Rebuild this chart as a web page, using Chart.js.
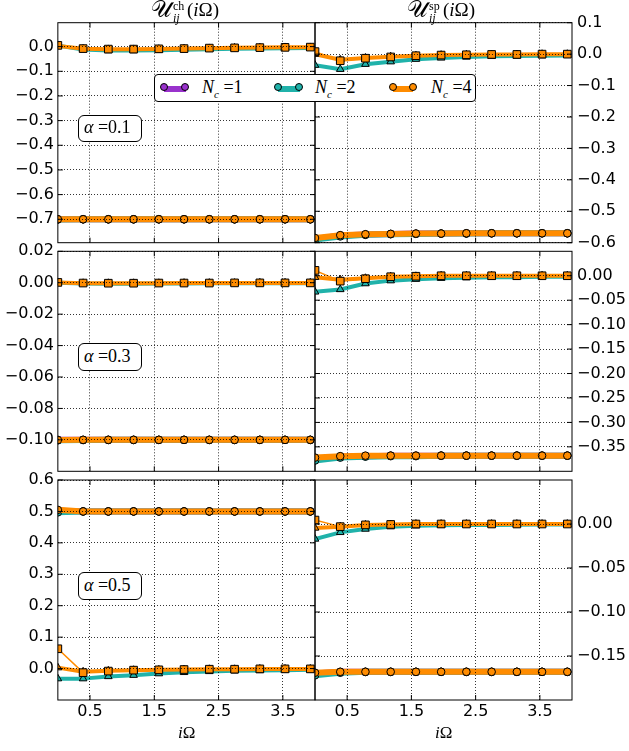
<!DOCTYPE html>
<html><head><meta charset="utf-8">
<script src="https://cdn.jsdelivr.net/npm/chart.js@4.4.1/dist/chart.umd.min.js"></script>
<style>
body{margin:0;background:#fff;width:629px;height:751px;overflow:hidden;position:relative;}
canvas.p{position:absolute;left:0;top:0;}
.ov{position:absolute;font-family:"Liberation Serif","DejaVu Serif",serif;color:#000;white-space:nowrap;z-index:10;}
.box{position:absolute;border:1px solid #000;border-radius:6px;background:#fff;z-index:10;box-sizing:border-box;}
.lg-line{position:absolute;height:6px;top:11px;}
.lg-dot{position:absolute;width:8px;height:8px;border:1px solid #000;border-radius:50%;top:8px;box-sizing:border-box;}
</style></head>
<body>
<canvas class="p" id="c1" width="629" height="751"></canvas>
<canvas class="p" id="c2" width="629" height="751"></canvas>
<canvas class="p" id="c3" width="629" height="751"></canvas>
<canvas class="p" id="c4" width="629" height="751"></canvas>
<canvas class="p" id="c5" width="629" height="751"></canvas>
<canvas class="p" id="c6" width="629" height="751"></canvas>

<!-- column titles -->
<div class="ov" style="left:151px;top:-3px;font-size:23px;">𝒰</div>
<div class="ov" style="left:173px;top:-1px;font-size:12px;">ch</div>
<div class="ov" style="left:173px;top:11px;font-size:12px;font-style:italic;">ij</div>
<div class="ov" style="left:187px;top:-1px;font-size:19px;">(<i>i</i>Ω)</div>

<div class="ov" style="left:407px;top:-3px;font-size:23px;">𝒰</div>
<div class="ov" style="left:429px;top:-1px;font-size:12px;">sp</div>
<div class="ov" style="left:429px;top:11px;font-size:12px;font-style:italic;">ij</div>
<div class="ov" style="left:443px;top:-1px;font-size:19px;">(<i>i</i>Ω)</div>

<!-- alpha boxes -->
<div class="box" style="left:78px;top:115px;width:64px;height:27px;"></div>
<div class="ov" style="left:84px;top:117px;font-size:18px;"><i>α</i> =0.1</div>
<div class="box" style="left:78px;top:343px;width:64px;height:28px;"></div>
<div class="ov" style="left:84px;top:346px;font-size:18px;"><i>α</i> =0.3</div>
<div class="box" style="left:78px;top:572px;width:64px;height:28px;"></div>
<div class="ov" style="left:84px;top:575px;font-size:18px;"><i>α</i> =0.5</div>

<!-- legend -->
<div class="box" style="left:154px;top:74px;width:322px;height:28px;border-radius:4px;">
  <div class="lg-line" style="left:9px;width:22px;background:#9932CC;"></div>
  <div class="lg-dot" style="left:5px;background:#9932CC;"></div>
  <div class="lg-dot" style="left:26px;background:#9932CC;"></div>
  <div class="ov" style="left:47px;top:2px;font-size:18px;"><i>N</i><sub style="font-size:11px;font-style:italic;">c</sub> =1</div>

  <div class="lg-line" style="left:123px;width:22px;background:#20B2AA;"></div>
  <div class="lg-dot" style="left:119px;background:#20B2AA;"></div>
  <div class="lg-dot" style="left:140px;background:#20B2AA;"></div>
  <div class="ov" style="left:160px;top:2px;font-size:18px;"><i>N</i><sub style="font-size:11px;font-style:italic;">c</sub> =2</div>

  <div class="lg-line" style="left:238px;width:20px;background:#FF8C00;"></div>
  <div class="lg-dot" style="left:234px;background:#FF8C00;"></div>
  <div class="lg-dot" style="left:254px;background:#FF8C00;"></div>
  <div class="ov" style="left:276px;top:2px;font-size:18px;"><i>N</i><sub style="font-size:11px;font-style:italic;">c</sub> =4</div>
</div>

<!-- x axis labels -->
<div class="ov" style="left:178px;top:723px;font-size:17px;"><i>i</i>Ω</div>
<div class="ov" style="left:435px;top:723px;font-size:17px;"><i>i</i>Ω</div>

<script>
// ---------- data ----------
const OMEGA = [0, 0.393, 0.785, 1.178, 1.571, 1.963, 2.356, 2.749, 3.142, 3.534, 3.927];
const X_TICKS = [0.5, 1.5, 2.5, 3.5];

// charge, alpha = 0.1
const ch01_nc1_loc = [-0.700, -0.700, -0.700, -0.700, -0.700, -0.700, -0.700, -0.700, -0.700, -0.700, -0.700];
const ch01_nc2_loc = [-0.701, -0.700, -0.700, -0.700, -0.700, -0.700, -0.700, -0.700, -0.700, -0.700, -0.700];
const ch01_nc4_loc = [-0.700, -0.700, -0.700, -0.700, -0.700, -0.700, -0.700, -0.700, -0.700, -0.700, -0.700];
const ch01_nc2_tri = [0.004, -0.012, -0.016, -0.016, -0.015, -0.013, -0.011, -0.009, -0.008, -0.007, -0.006];
const ch01_nc4_tri = [0.003, -0.009, -0.011, -0.011, -0.010, -0.008, -0.007, -0.005, -0.004, -0.003, -0.003];
const ch01_nc4_sq  = [0.005, -0.008, -0.010, -0.010, -0.009, -0.008, -0.006, -0.005, -0.004, -0.003, -0.002];
const ch01_yticks  = [0.0, -0.1, -0.2, -0.3, -0.4, -0.5, -0.6, -0.7];

// spin, alpha = 0.1
const sp01_nc1_loc = [-0.588, -0.577, -0.574, -0.572, -0.571, -0.571, -0.570, -0.570, -0.570, -0.570, -0.570];
const sp01_nc2_loc = [-0.590, -0.580, -0.575, -0.573, -0.572, -0.571, -0.571, -0.570, -0.570, -0.570, -0.570];
const sp01_nc4_loc = [-0.585, -0.576, -0.573, -0.572, -0.571, -0.571, -0.570, -0.570, -0.570, -0.570, -0.570];
const sp01_nc2_tri = [-0.035, -0.048, -0.032, -0.024, -0.016, -0.012, -0.009, -0.007, -0.006, -0.005, -0.004];
const sp01_nc4_tri = [0.000, -0.018, -0.012, -0.008, -0.005, -0.003, -0.002, -0.001, -0.001, 0.000, 0.000];
const sp01_nc4_sq  = [0.008, -0.021, -0.013, -0.009, -0.005, -0.003, -0.002, -0.001, -0.001, 0.000, 0.000];
const sp01_yticks  = [0.1, 0.0, -0.1, -0.2, -0.3, -0.4, -0.5, -0.6];

// charge, alpha = 0.3
const ch03_nc1_loc = [-0.1000, -0.1000, -0.1000, -0.1000, -0.1000, -0.1000, -0.1000, -0.1000, -0.1000, -0.1000, -0.1000];
const ch03_nc2_loc = [-0.1003, -0.1001, -0.1000, -0.1000, -0.1000, -0.1000, -0.1000, -0.1000, -0.1000, -0.1000, -0.1000];
const ch03_nc4_loc = [-0.1001, -0.1000, -0.1000, -0.1000, -0.1000, -0.1000, -0.1000, -0.1000, -0.1000, -0.1000, -0.1000];
const ch03_nc2_tri = [0.0000, -0.0005, -0.0006, -0.0006, -0.0005, -0.0005, -0.0004, -0.0004, -0.0003, -0.0003, -0.0003];
const ch03_nc4_tri = [0.0001, -0.0003, -0.0003, -0.0003, -0.0003, -0.0002, -0.0002, -0.0002, -0.0001, -0.0001, -0.0001];
const ch03_nc4_sq  = [0.0002, -0.0002, -0.0003, -0.0003, -0.0002, -0.0002, -0.0002, -0.0001, -0.0001, -0.0001, -0.0001];
const ch03_yticks  = [0.02, 0.00, -0.02, -0.04, -0.06, -0.08, -0.10];

// spin, alpha = 0.3
const sp03_nc1_loc = [-0.376, -0.370, -0.369, -0.368, -0.368, -0.368, -0.368, -0.368, -0.368, -0.368, -0.368];
const sp03_nc2_loc = [-0.378, -0.372, -0.370, -0.369, -0.369, -0.368, -0.368, -0.368, -0.368, -0.368, -0.368];
const sp03_nc4_loc = [-0.372, -0.369, -0.368, -0.368, -0.368, -0.368, -0.368, -0.368, -0.368, -0.368, -0.368];
const sp03_nc2_tri = [-0.033, -0.028, -0.016, -0.010, -0.007, -0.005, -0.004, -0.003, -0.003, -0.002, -0.002];
const sp03_nc4_tri = [-0.003, -0.008, -0.005, -0.002, -0.001, 0.000, 0.000, 0.000, 0.000, 0.000, 0.000];
const sp03_nc4_sq  = [0.011, -0.011, -0.006, -0.002, -0.001, 0.000, 0.000, 0.000, 0.000, 0.000, 0.000];
const sp03_yticks  = [0.00, -0.05, -0.10, -0.15, -0.20, -0.25, -0.30, -0.35];

// charge, alpha = 0.5
const ch05_nc1_loc = [0.502, 0.500, 0.500, 0.500, 0.500, 0.500, 0.500, 0.500, 0.500, 0.500, 0.500];
const ch05_nc2_loc = [0.497, 0.500, 0.500, 0.500, 0.500, 0.500, 0.500, 0.500, 0.500, 0.500, 0.500];
const ch05_nc4_loc = [0.505, 0.500, 0.500, 0.500, 0.500, 0.500, 0.500, 0.500, 0.500, 0.500, 0.500];
const ch05_nc2_tri = [-0.032, -0.032, -0.025, -0.021, -0.016, -0.012, -0.009, -0.007, -0.006, -0.005, -0.004];
const ch05_nc4_tri = [0.003, -0.010, -0.007, -0.005, -0.004, -0.003, -0.002, -0.002, -0.001, -0.001, -0.001];
const ch05_nc4_sq  = [0.063, -0.013, -0.008, -0.005, -0.004, -0.003, -0.002, -0.002, -0.001, -0.001, -0.001];
const ch05_yticks  = [0.6, 0.5, 0.4, 0.3, 0.2, 0.1, 0.0];

// spin, alpha = 0.5
const sp05_nc1_loc = [-0.170, -0.168, -0.168, -0.168, -0.168, -0.168, -0.168, -0.168, -0.168, -0.168, -0.168];
const sp05_nc2_loc = [-0.172, -0.169, -0.168, -0.168, -0.168, -0.168, -0.168, -0.168, -0.168, -0.168, -0.168];
const sp05_nc4_loc = [-0.169, -0.168, -0.168, -0.168, -0.168, -0.168, -0.168, -0.168, -0.168, -0.168, -0.168];
const sp05_nc2_tri = [-0.017, -0.0095, -0.0057, -0.0030, -0.0020, -0.0015, -0.0010, -0.0010, -0.0008, -0.0006, -0.0005];
const sp05_nc4_tri = [-0.0045, -0.0030, -0.0010, -0.0005, 0.0000, 0.0000, 0.0000, 0.0000, 0.0000, 0.0000, 0.0000];
const sp05_nc4_sq  = [0.0045, -0.0030, -0.0010, -0.0005, 0.0000, 0.0000, 0.0000, 0.0000, 0.0000, 0.0000, 0.0000];
const sp05_yticks  = [0.00, -0.05, -0.10, -0.15];

// ---------- styling ----------
const C_NC1 = '#9932CC', C_NC2 = '#20B2AA', C_NC4 = '#FF8C00';
const W = 629, H = 751;
const COLS = [[57.85, 315], [315, 572]];
const ROWS = [[22.7, 242.7], [251.3, 471.3], [480, 700]];

function pts(arr){ return arr.map((v,i)=>({x: OMEGA[i], y: v})); }
function ds(arr, kind, color, order){
  const st = {
    loc: {ps:'circle',  r:3.8, bw:6},
    tri: {ps:'triangle',r:4.4, bw:4},
    sq:  {ps:'rect',    r:5.4, bw:1.5}
  }[kind];
  return {data: pts(arr), borderColor: color, borderWidth: st.bw, pointStyle: st.ps,
    pointRadius: st.r, pointBackgroundColor: color, pointBorderColor: '#000', pointBorderWidth: 1,
    tension: 0, fill: false, clip: 0, order: order, borderJoinStyle: 'round', borderCapStyle: 'butt'};
}

function fmt(dec){ return v => { if (Math.abs(v) < 1e-9) v = 0; const s = Math.abs(v).toFixed(dec); return (v < 0 ? '\u2212' : '') + s; }; }

const frame = {
  id: 'frame',
  afterDraw(chart){
    const a = chart.chartArea, ctx = chart.ctx;
    ctx.save();
    ctx.strokeStyle = '#000'; ctx.lineWidth = 1;
    ctx.strokeRect(a.left, a.top, a.right - a.left, a.bottom - a.top);
    const ys = chart.scales.y, xs = chart.scales.x, L = 5;
    ctx.beginPath();
    ys.ticks.forEach(t => { const p = ys.getPixelForValue(t.value);
      ctx.moveTo(a.left, p); ctx.lineTo(a.left + L, p);
      ctx.moveTo(a.right, p); ctx.lineTo(a.right - L, p); });
    xs.ticks.forEach(t => { const p = xs.getPixelForValue(t.value);
      ctx.moveTo(p, a.bottom); ctx.lineTo(p, a.bottom - L);
      ctx.moveTo(p, a.top); ctx.lineTo(p, a.top + L); });
    ctx.stroke();
    ctx.restore();
  }
};

function panel(id, col, row, yr, yticks, dec, s){
  const left = col === 0;
  const xH = row === 2 ? 28 : 0;
  const yW = left ? COLS[0][0] : W - COLS[1][1];
  const pad = {
    left: left ? 0 : COLS[1][0],
    right: left ? W - COLS[0][1] : 0,
    top: ROWS[row][0],
    bottom: H - ROWS[row][1] - xH
  };
  new Chart(document.getElementById(id), {
    type: 'line',
    data: { datasets: [
      ds(s[0], 'loc', C_NC1, 6),
      ds(s[1], 'loc', C_NC2, 5),
      ds(s[3], 'tri', C_NC2, 4),
      ds(s[2], 'loc', C_NC4, 3),
      ds(s[4], 'tri', C_NC4, 2),
      ds(s[5], 'sq',  C_NC4, 1)
    ]},
    options: {
      responsive: false, animation: false, events: [],
      layout: { padding: pad, autoPadding: false },
      plugins: { legend: {display: false}, tooltip: {enabled: false} },
      scales: {
        x: { type: 'linear', min: 0, max: 4,
          afterBuildTicks: sc => { sc.ticks = X_TICKS.map(v => ({value: v})); },
          afterFit: sc => { sc.height = xH; },
          ticks: { display: row === 2, padding: 2, color: '#000', font: {family: 'DejaVu Sans', size: 16},
                   callback: v => v.toFixed(1), maxRotation: 0, autoSkip: false },
          grid: { color: '#000', lineWidth: 0.8, drawTicks: false, z: 1 },
          border: { display: false, dash: [1, 2] }
        },
        y: { type: 'linear', position: left ? 'left' : 'right', min: yr[0], max: yr[1],
          afterBuildTicks: sc => { sc.ticks = yticks.map(v => ({value: v})); },
          afterFit: sc => { sc.width = yW; },
          ticks: { padding: left ? 4 : 5, color: '#000', font: {family: 'DejaVu Sans', size: 16},
                   callback: fmt(dec), autoSkip: false },
          grid: { color: '#000', lineWidth: 0.8, drawTicks: false, z: 1 },
          border: { display: false, dash: [1, 2] }
        }
      }
    },
    plugins: [frame]
  });
}

panel('c1', 0, 0, [-0.795, 0.097], ch01_yticks, 1, [ch01_nc1_loc, ch01_nc2_loc, ch01_nc4_loc, ch01_nc2_tri, ch01_nc4_tri, ch01_nc4_sq]);
panel('c2', 1, 0, [-0.6, 0.1], sp01_yticks, 1, [sp01_nc1_loc, sp01_nc2_loc, sp01_nc4_loc, sp01_nc2_tri, sp01_nc4_tri, sp01_nc4_sq]);
panel('c3', 0, 1, [-0.12, 0.02], ch03_yticks, 2, [ch03_nc1_loc, ch03_nc2_loc, ch03_nc4_loc, ch03_nc2_tri, ch03_nc4_tri, ch03_nc4_sq]);
panel('c4', 1, 1, [-0.40, 0.05], sp03_yticks, 2, [sp03_nc1_loc, sp03_nc2_loc, sp03_nc4_loc, sp03_nc2_tri, sp03_nc4_tri, sp03_nc4_sq]);
panel('c5', 0, 2, [-0.1, 0.6], ch05_yticks, 1, [ch05_nc1_loc, ch05_nc2_loc, ch05_nc4_loc, ch05_nc2_tri, ch05_nc4_tri, ch05_nc4_sq]);
panel('c6', 1, 2, [-0.2, 0.05], sp05_yticks, 2, [sp05_nc1_loc, sp05_nc2_loc, sp05_nc4_loc, sp05_nc2_tri, sp05_nc4_tri, sp05_nc4_sq]);
</script>
</body></html>
